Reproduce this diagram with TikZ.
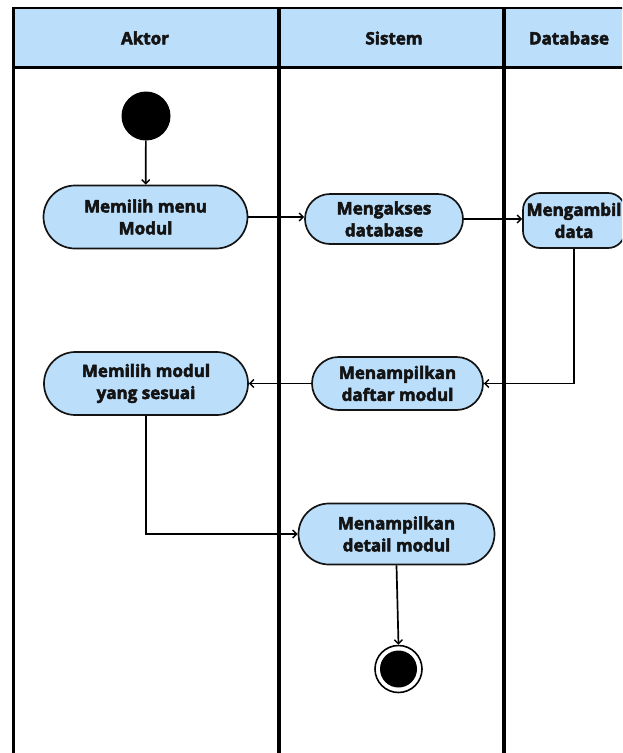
\documentclass[tikz,border=0pt]{standalone}
\usepackage{fontspec}
\setmainfont{Open Sans}[BoldFeatures={FakeBold=3}]
\usetikzlibrary{arrows.meta,shapes.misc}
\definecolor{lanefill}{RGB}{187,222,251}
\definecolor{edgecol}{RGB}{20,20,20}
\begin{document}
\begin{tikzpicture}[x=1pt,y=-1pt,
  every node/.style={font=\fontsize{17}{22}\selectfont\bfseries, text=black!92},
  action/.style={draw=edgecol, line width=1.7pt, fill=lanefill, rounded rectangle,
    align=center, inner sep=0pt},
  boxact/.style={draw=edgecol, line width=1.7pt, fill=lanefill, rounded corners=17pt,
    align=center, inner sep=0pt},
  flow/.style={draw=black, line width=1.7pt, -{Straight Barb[length=4pt,width=8pt,line width=1.4pt]}},
  lane/.style={draw=black, line width=4pt},
  headtext/.style={font=\fontsize{17}{22}\selectfont\bfseries}]
  \useasboundingbox (0,0) rectangle (622,753);
  \begin{scope}
    \clip (0,0) rectangle (622,753);
    % swimlane header band
    \fill[lanefill] (13,8) rectangle (640,67);
    \draw[line width=2pt] (12,7.5) -- (640,7.5);
    \draw[line width=3pt] (12,67) -- (640,67);
    % lane borders
    \draw[line width=3pt] (13.5,6.5) -- (13.5,760);
    \draw[lane] (278.5,6.5) -- (278.5,760);
    \draw[lane] (503.5,6.5) -- (503.5,760);

    % lane titles
    \node[headtext] (hAktor) at (145,38) {Aktor};
    \node[headtext] (hSistem) at (394,38) {Sistem};
    \node[headtext] (hDb) at (569,38) {Database};

    % start and end states
    \node[circle, fill=black, minimum size=49pt, inner sep=0pt] (start) at (146,116) {};
    \node[circle, draw=black, line width=1.6pt, minimum size=47pt, inner sep=0pt] (finish) at (398.5,669) {};
    \fill[black] (finish.center) circle (18.5);

    % activities
    \node[action, minimum width=204pt, minimum height=63pt] (pickMenu) at (145.5,217) {Memilih menu\\Modul};
    \node[action, minimum width=158pt, minimum height=50pt] (access) at (384,219) {Mengakses\\database};
    \node[boxact, minimum width=102pt, minimum height=55pt] (fetch) at (574,220.5) {Mengambil\\data};
    \node[action, minimum width=171pt, minimum height=53pt] (showList) at (397.5,383.5) {Menampilkan\\daftar modul};
    \node[action, minimum width=204pt, minimum height=63pt] (pickModule) at (146,383.5) {Memilih modul\\yang sesuai};
    \node[action, minimum width=196pt, minimum height=61pt] (showDetail) at (396.5,534) {Menampilkan\\detail modul};

    % control flow
    \draw[flow] (start) -- (pickMenu);
    \draw[flow] (pickMenu.east) -- (pickMenu.east -| access.west);
    \draw[flow] (access.east) -- (access.east -| fetch.west);
    \draw[flow] (fetch.south) |- (showList.east);
    \draw[flow] (showList.west) -- (pickModule.east);
    \draw[flow] (pickModule.south) |- (showDetail.west);
    \draw[flow] (showDetail.south) -- (finish.north);
  \end{scope}
\end{tikzpicture}
\end{document}
